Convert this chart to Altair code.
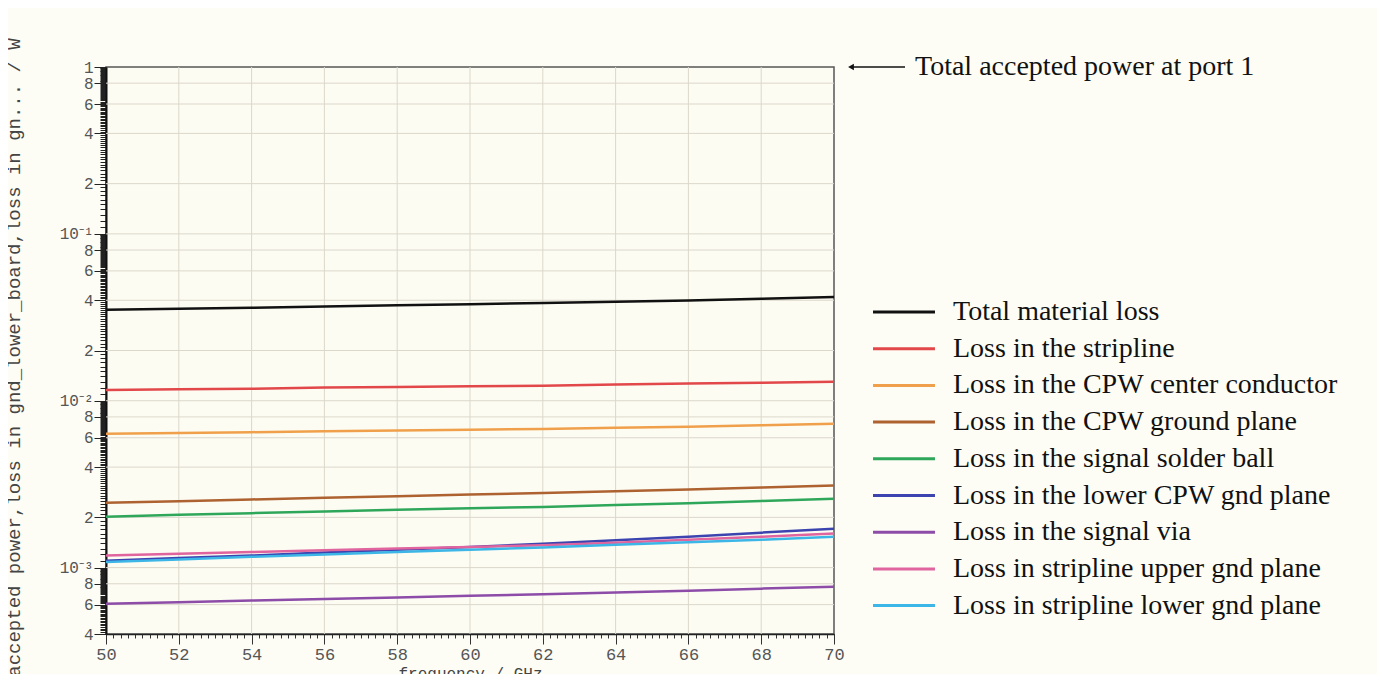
import altair as alt
import pandas as pd

freq = [50, 52, 54, 56, 58, 60, 62, 64, 66, 68, 70]

series_names = [
    "Total material loss",
    "Loss in the stripline",
    "Loss in the CPW center conductor",
    "Loss in the CPW ground plane",
    "Loss in the signal solder ball",
    "Loss in the lower CPW gnd plane",
    "Loss in the signal via",
    "Loss in stripline upper gnd plane",
    "Loss in stripline lower gnd plane",
]
series_colors = ["#111111", "#e2474a", "#f0a04a", "#ad6230", "#2fa75a",
                 "#3c44b0", "#8c4ca8", "#e0649e", "#3cb6e6"]

total_loss = [0.0351, 0.0356, 0.0361, 0.0367, 0.0373, 0.0379, 0.0385, 0.0392, 0.0399, 0.0408, 0.0418]
stripline = [0.0116, 0.0117, 0.0118, 0.0120, 0.0121, 0.0122, 0.0123, 0.0125, 0.0127, 0.0128, 0.0130]
cpw_center = [0.00634, 0.00641, 0.00648, 0.00656, 0.00664, 0.00671, 0.00678, 0.00688, 0.00698, 0.00712, 0.00728]
cpw_ground = [0.00245, 0.00250, 0.00256, 0.00262, 0.00268, 0.00274, 0.00280, 0.00287, 0.00294, 0.00302, 0.00310]
solder_ball = [0.00202, 0.00207, 0.00212, 0.00217, 0.00222, 0.00227, 0.00231, 0.00237, 0.00243, 0.00251, 0.00259]
lower_cpw_gnd = [0.00110, 0.00114, 0.00118, 0.00123, 0.00128, 0.00133, 0.00139, 0.00146, 0.00153, 0.00162, 0.00171]
signal_via = [0.000608, 0.000620, 0.000634, 0.000648, 0.000662, 0.000677, 0.000693, 0.000710, 0.000727, 0.000748, 0.000769]
strip_upper_gnd = [0.00118, 0.00121, 0.00124, 0.00127, 0.00130, 0.00133, 0.00136, 0.00141, 0.00147, 0.00153, 0.00160]
strip_lower_gnd = [0.00108, 0.00112, 0.00116, 0.00120, 0.00124, 0.00128, 0.00132, 0.00137, 0.00142, 0.00147, 0.00153]

all_series = [total_loss, stripline, cpw_center, cpw_ground, solder_ball,
              lower_cpw_gnd, signal_via, strip_upper_gnd, strip_lower_gnd]

annotation_text = "Total accepted power at port 1"
x_title = "frequency / GHz"
y_title = "accepted power,loss in gnd_lower_board,loss in gn... / W"

# labelled ticks / grid positions
x_major = [50, 52, 54, 56, 58, 60, 62, 64, 66, 68, 70]
y_major = [0.0004, 0.0006, 0.0008, 0.001, 0.002, 0.004, 0.006, 0.008,
           0.01, 0.02, 0.04, 0.06, 0.08, 0.1, 0.2, 0.4, 0.6, 0.8, 1.0]
x_grid = [52, 54, 56, 58, 60, 62, 64, 66, 68]
y_grid = [0.0006, 0.0008, 0.001, 0.002, 0.004, 0.006, 0.008,
          0.01, 0.02, 0.04, 0.06, 0.08, 0.1, 0.2, 0.4, 0.6, 0.8]

rows = []
for name, vals in zip(series_names, all_series):
    for f, v in zip(freq, vals):
        rows.append({"freq": f, "value": v, "series": name})
df = pd.DataFrame(rows)

# minor tick positions
x_minor = [round(50 + 0.2 * i, 1) for i in range(101)]
y_minor = []
for e in [-4, -3, -2, -1]:
    for k in range(10, 100):
        v = round(k / 10 * 10 ** e, 12)
        if 0.0004 - 1e-12 <= v <= 1:
            y_minor.append(v)

MONO = "Liberation Mono"
SERIF = "Liberation Serif"
GRID = "#dcd7cb"

y_label = ("datum.value == 1 ? '1' : datum.value == 0.1 ? '10⁻¹' : "
           "datum.value == 0.01 ? '10⁻²' : datum.value == 0.001 ? '10⁻³' : "
           "'' + round(datum.value / pow(10, floor(log(datum.value)/LN10 + 1e-6)))")

common = dict(labelOverlap=False, labelFlush=False, labelBound=False)

x_axis = alt.Axis(
    values=x_major, title=x_title, orient="bottom", format="d",
    labelFont=MONO, labelFontSize=17, labelColor="#555555", labelPadding=2,
    titleFont=MONO, titleFontSize=16, titleFontWeight="normal", titleColor="#444444",
    titleY=39, titleBaseline="middle",
    tickSize=10, tickColor="#333333", tickWidth=1,
    domainColor="#222222", domainWidth=1.5, grid=False, **common,
)
x_axis_minor = alt.Axis(
    values=x_minor, tickCount=1000, title=None, orient="bottom", labels=False,
    tickSize=4, tickColor="#333333", tickWidth=1,
    domain=False, grid=False, **common,
)
y_axis = alt.Axis(
    values=y_major, title=y_title, orient="left", labelExpr=y_label,
    labelFont=MONO, labelFontSize=16, labelColor="#555555", labelPadding=1,
    titleFont=MONO, titleFontSize=19, titleFontWeight="normal", titleColor="#444444",
    titleX=-93, titleY=290, titleAngle=270, titleBaseline="middle", titleAlign="center",
    tickSize=12, tickColor="#222222", tickWidth=1,
    domainColor="#111111", domainWidth=2, grid=False, **common,
)
y_axis_minor = alt.Axis(
    values=y_minor, tickCount=1000, title=None, orient="left", labels=False,
    tickSize=6, tickColor="#222222", tickWidth=1,
    domain=False, grid=False, **common,
)

x_scale = alt.Scale(domain=[50, 70], nice=False, zero=False)
y_scale = alt.Scale(type="log", domain=[0.0004, 1], nice=False)

vgrid = alt.Chart(pd.DataFrame({"freq": x_grid})).mark_rule(
    color=GRID, strokeWidth=1
).encode(x=alt.X("freq:Q", scale=x_scale, axis=x_axis_minor))

hgrid = alt.Chart(pd.DataFrame({"value": y_grid})).mark_rule(
    color=GRID, strokeWidth=1
).encode(y=alt.Y("value:Q", scale=y_scale, axis=y_axis_minor))

lines = alt.Chart(df).mark_line(strokeWidth=2.5, clip=True).encode(
    x=alt.X("freq:Q", scale=x_scale, axis=x_axis),
    y=alt.Y("value:Q", scale=y_scale, axis=y_axis),
    color=alt.Color(
        "series:N",
        scale=alt.Scale(domain=series_names, range=series_colors),
        sort=series_names,
        legend=alt.Legend(
            title=None, orient="none", legendX=784, legendY=231,
            symbolType="M-4,0H4", symbolSize=240, symbolStrokeWidth=3,
            labelFont=SERIF, labelFontSize=28, labelColor="#111111",
            labelLimit=700, labelOffset=35, rowPadding=8.7, padding=0,
        ),
    ),
    order=alt.Order("series_order:Q"),
).transform_calculate(
    series_order="indexof(" + str(series_names) + ", datum.series)"
)

ann_df = pd.DataFrame({"freq": [70], "value": [1.0], "text": [annotation_text]})
ax_x = alt.X("freq:Q", scale=x_scale, axis=None)
ax_y = alt.Y("value:Q", scale=y_scale, axis=None)

ann_text = alt.Chart(ann_df).mark_text(
    align="left", baseline="middle", dx=81, font=SERIF, fontSize=28, color="#111111"
).encode(x=ax_x, y=ax_y, text="text:N")

ann_line = alt.Chart(ann_df).mark_rule(
    color="#111111", strokeWidth=1.5, xOffset=16, x2Offset=71
).encode(x=ax_x, x2="freq:Q", y=ax_y)

ann_head = alt.Chart(ann_df).mark_point(
    shape="triangle-left", filled=True, color="#111111", size=45, opacity=1, xOffset=17
).encode(x=ax_x, y=ax_y)

chart = alt.layer(vgrid, hgrid, lines, ann_line, ann_head, ann_text).resolve_scale(
    x="shared", y="shared"
).resolve_axis(
    x="independent", y="independent"
).properties(
    width=728, height=567,
    autosize=alt.AutoSizeParams(type="none"),
    padding={"left": 98, "top": 59, "right": 543, "bottom": 40},
    background="#fdfdf6",
).configure_view(
    fill="#fcfcf3", stroke="#555555", strokeWidth=1.5
)

chart.save("out.html", embed_options={"renderer": "svg", "actions": False})
